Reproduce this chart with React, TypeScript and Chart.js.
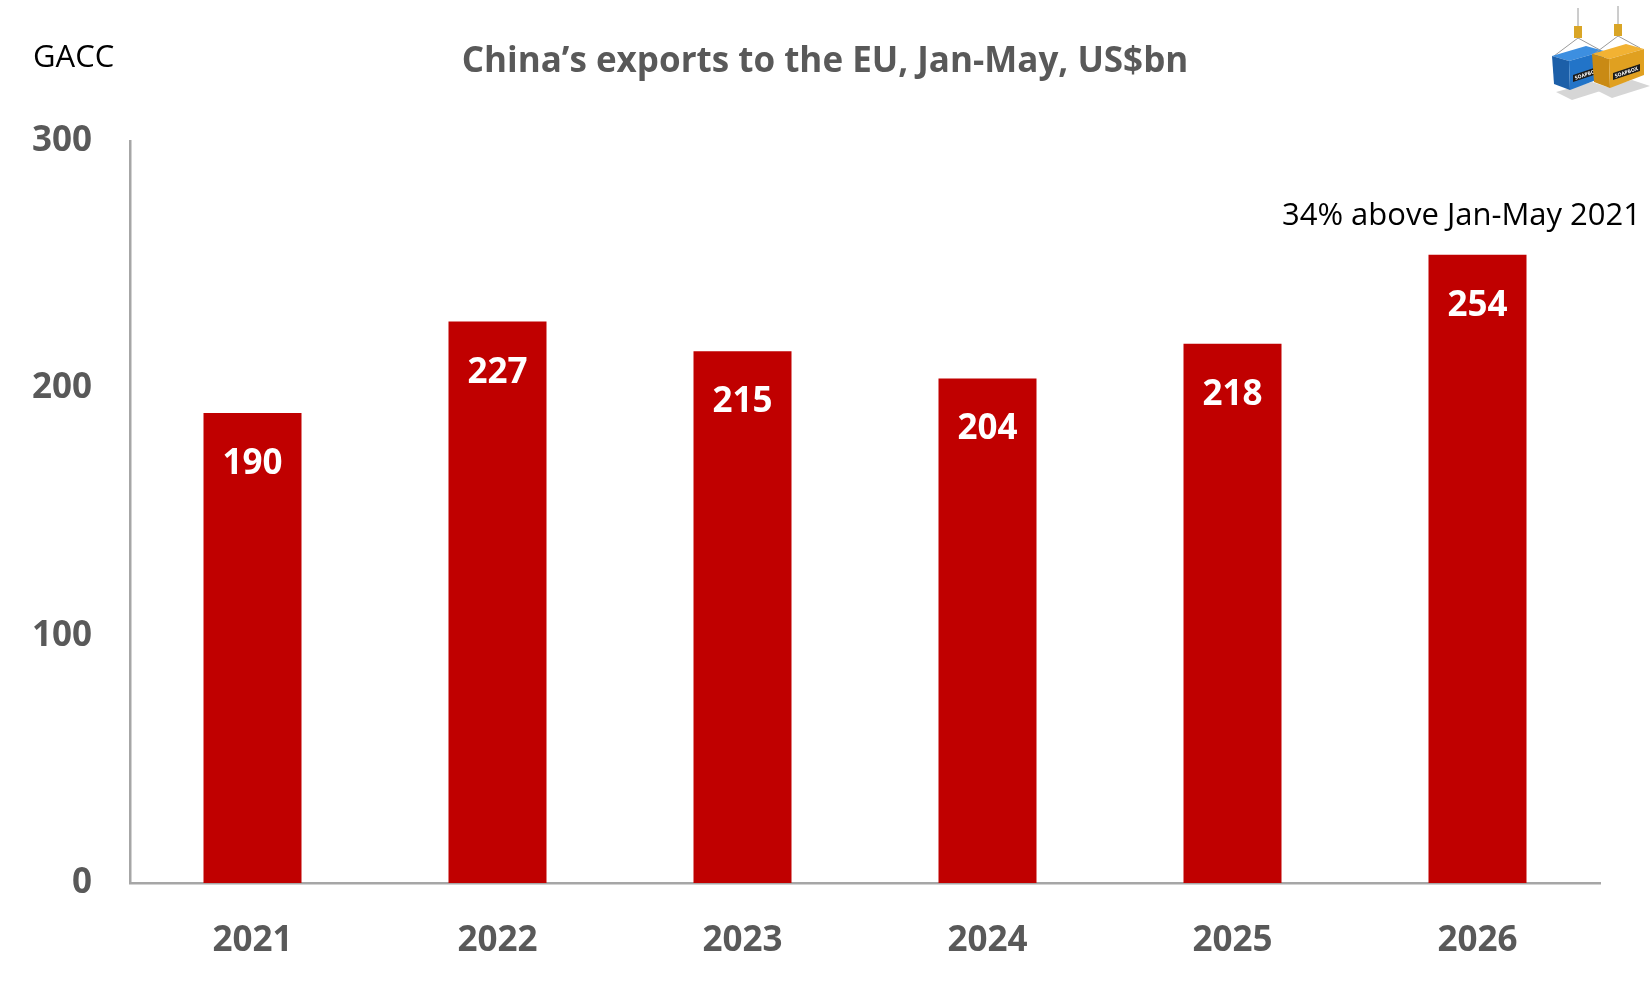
import React, { useEffect, useRef } from "react";
import { Chart, registerables } from "chart.js";

Chart.register(...registerables);

const categories = ["2021", "2022", "2023", "2024", "2025", "2026"];
const exportsUsdBn = [190, 227, 215, 204, 218, 254];
const yTickValues = [0, 100, 200, 300];
const titleText = "China\u2019s exports to the EU, Jan-May, US$bn";
const sourceText = "GACC";
const noteText = "34% above Jan-May 2021";

const FONT = "'Open Sans', 'Noto Sans', sans-serif";
const GREY = "#595959";
const RED = "#C00000";

function poly(ctx: CanvasRenderingContext2D, pts: number[][], fill: string) {
  ctx.beginPath();
  ctx.moveTo(pts[0][0], pts[0][1]);
  for (let i = 1; i < pts.length; i++) ctx.lineTo(pts[i][0], pts[i][1]);
  ctx.closePath();
  ctx.fillStyle = fill;
  ctx.fill();
}

function drawContainer(
  ctx: CanvasRenderingContext2D,
  ox: number,
  oy: number,
  top: string,
  front: string,
  side: string
) {
  ctx.strokeStyle = "#9a9a9a";
  ctx.lineWidth = 1;
  ctx.beginPath();
  ctx.moveTo(ox + 26, oy - 44);
  ctx.lineTo(ox + 26, oy - 24);
  ctx.moveTo(ox + 26, oy - 14);
  ctx.lineTo(ox + 2, oy + 4);
  ctx.moveTo(ox + 26, oy - 14);
  ctx.lineTo(ox + 48, oy - 2);
  ctx.stroke();
  poly(ctx, [[ox + 22, oy - 26], [ox + 30, oy - 26], [ox + 30, oy - 14], [ox + 22, oy - 14]], "#d9a526");
  poly(ctx, [[ox + 4, oy + 40], [ox + 40, oy + 30], [ox + 58, oy + 36], [ox + 20, oy + 48]], "#d6d6d6");
  poly(ctx, [[ox, oy + 4], [ox + 34, oy - 6], [ox + 52, oy - 1], [ox + 17, oy + 9]], top);
  poly(ctx, [[ox, oy + 4], [ox + 17, oy + 9], [ox + 18, oy + 38], [ox + 2, oy + 32]], front);
  poly(ctx, [[ox + 17, oy + 9], [ox + 52, oy - 1], [ox + 52, oy + 25], [ox + 18, oy + 38]], side);
  poly(ctx, [[ox + 21, oy + 23], [ox + 48, oy + 14], [ox + 48, oy + 21], [ox + 21, oy + 30]], "#1a1a1a");
  ctx.save();
  ctx.translate(ox + 34.5, oy + 22.5);
  ctx.rotate(-0.33);
  ctx.fillStyle = "#ffffff";
  ctx.font = `bold 5px ${FONT}`;
  ctx.textAlign = "center";
  ctx.textBaseline = "middle";
  ctx.fillText("SOAPBOX", 0, 0);
  ctx.restore();
}

const annotationsPlugin = {
  id: "annotationsPlugin",
  afterDatasetsDraw(chart: any) {
    const ctx: CanvasRenderingContext2D = chart.ctx;
    const meta = chart.getDatasetMeta(0);
    ctx.save();
    ctx.fillStyle = "#ffffff";
    ctx.font = `bold 35px ${FONT}`;
    ctx.textAlign = "center";
    ctx.textBaseline = "middle";
    meta.data.forEach((bar: any, i: number) => {
      ctx.fillText(String(exportsUsdBn[i]), bar.x, bar.y + 51);
    });
    ctx.restore();
  },
  afterDraw(chart: any) {
    const ctx: CanvasRenderingContext2D = chart.ctx;
    const meta = chart.getDatasetMeta(0);
    ctx.save();
    ctx.fillStyle = "#000000";
    ctx.font = `31px ${FONT}`;
    ctx.textAlign = "left";
    ctx.textBaseline = "alphabetic";
    ctx.fillText(sourceText, 33, 67);
    ctx.fillStyle = GREY;
    ctx.font = `bold 35px ${FONT}`;
    ctx.textAlign = "center";
    ctx.fillText(titleText, 825, 72);
    const last = meta.data[meta.data.length - 1];
    ctx.fillStyle = "#000000";
    ctx.font = `31px ${FONT}`;
    ctx.textAlign = "center";
    ctx.fillText(noteText, last.x - 16, last.y - 30);
    drawContainer(ctx, 1552, 52, "#3d8fe0", "#1c5fa8", "#2274c8");
    drawContainer(ctx, 1592, 50, "#f2b233", "#c98a14", "#e0a020");
    ctx.restore();
  },
};

export default function App() {
  const canvasRef = useRef<HTMLCanvasElement | null>(null);

  useEffect(() => {
    if (!canvasRef.current) return;
    const chart = new Chart(canvasRef.current, {
      type: "bar",
      data: {
        labels: categories,
        datasets: [
          {
            data: exportsUsdBn,
            backgroundColor: RED,
            borderWidth: 0,
            barPercentage: 0.4,
            categoryPercentage: 1.0,
          },
        ],
      },
      options: {
        animation: false,
        responsive: true,
        maintainAspectRatio: false,
        devicePixelRatio: 1,
        layout: { padding: { top: 141, right: 51, bottom: 0, left: 0 } },
        plugins: {
          legend: { display: false },
          title: { display: false },
          tooltip: { enabled: false },
        },
        scales: {
          x: {
            offset: true,
            grid: { display: false, drawTicks: false },
            border: { display: true, color: "#A6A6A6", width: 2.5 },
            ticks: {
              color: GREY,
              padding: 37,
              font: { family: FONT, size: 35, weight: "bold" },
            },
            afterFit: (s: any) => {
              s.height = 107;
            },
          },
          y: {
            min: 0,
            max: 300,
            grid: { display: false, drawTicks: false },
            border: { display: true, color: "#A6A6A6", width: 2.5 },
            afterBuildTicks: (s: any) => {
              s.ticks = yTickValues.map((v) => ({ value: v }));
            },
            ticks: {
              color: GREY,
              padding: 38,
              font: { family: FONT, size: 35, weight: "bold" },
            },
            afterFit: (s: any) => {
              s.width = 130;
            },
          },
        },
      },
      plugins: [annotationsPlugin],
    });
    return () => chart.destroy();
  }, []);

  return (
    <div
      style={{
        position: "absolute",
        left: 0,
        top: 0,
        width: 1651,
        height: 990,
        background: "#ffffff",
      }}
    >
      <canvas ref={canvasRef} />
    </div>
  );
}
